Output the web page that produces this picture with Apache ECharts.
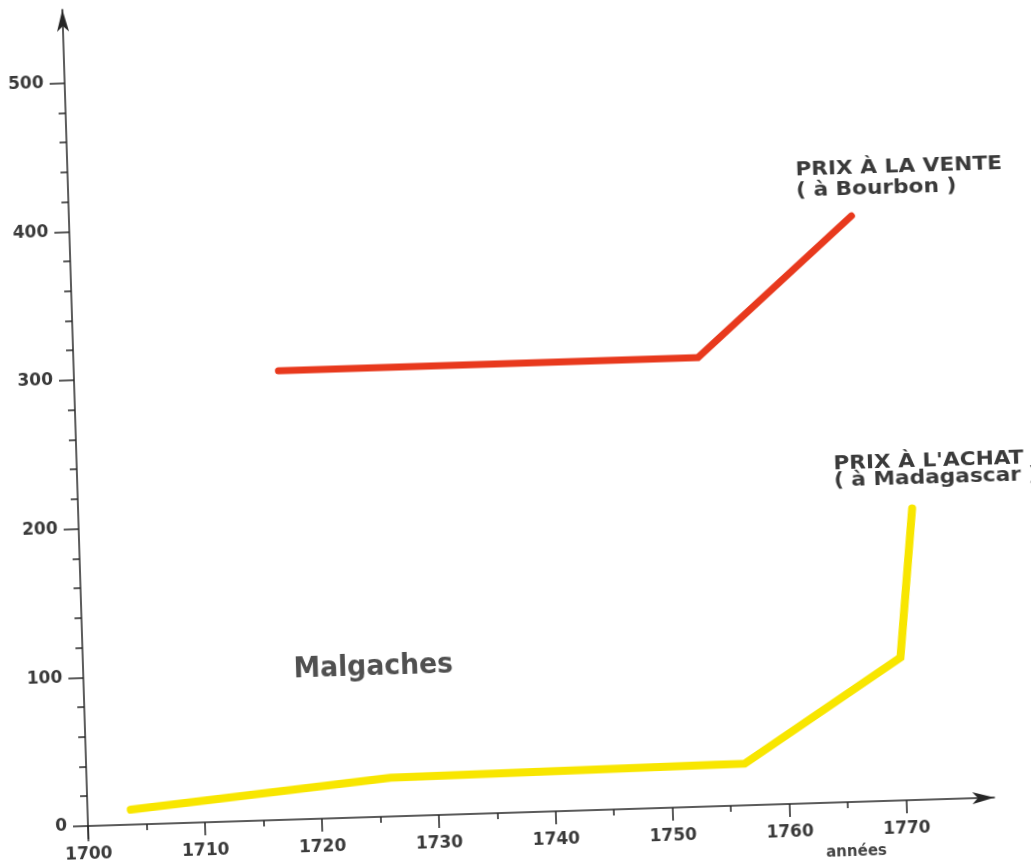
<!DOCTYPE html>
<html>
<head>
<meta charset="utf-8">
<script src="https://cdn.jsdelivr.net/npm/echarts@6/dist/echarts.min.js"></script>
<style>
html, body { margin: 0; padding: 0; background: #fff; overflow: hidden; width: 1031px; height: 861px; }
/* the scanned figure is slightly tilted, so the whole chart is turned a little */
#main { position: absolute; left: 0; top: -40px; width: 1080px; height: 941px;
        transform-origin: 88px 866px; transform: rotate(-1.8deg); }
</style>
</head>
<body>
<div id="main"></div>
<script>
"use strict";
// prix à la vente (à Bourbon)
var sellYears = [1717.5, 1753.4, 1766.9];
var sellPrices = [302, 302, 394];
// prix à l'achat (à Madagascar)
var buyYears = [1703.7, 1726, 1756.3, 1769.9, 1771.3];
var buyPrices = [10, 26, 28, 96, 196];

var yearLabels = [1700, 1710, 1720, 1730, 1740, 1750, 1760, 1770];
var yearMinorTicks = [1705, 1715, 1725, 1735, 1745, 1755, 1765];
var priceLabels = [0, 100, 200, 300, 400, 500];
var priceMinorTicks = [20, 40, 60, 80, 120, 140, 160, 180, 220, 240, 260, 280,
                       320, 340, 360, 380, 420, 440, 460, 480];

var font = '"DejaVu Sans", sans-serif';
var ink = '#262626';
var textInk = '#3a3a3a';

function pairs(xs, ys) {
    return xs.map(function (x, i) { return [x, ys[i]]; });
}
function plain(v) { return String(v); } // pas de séparateur de milliers

var chartDom = document.getElementById('main');
var myChart = echarts.init(chartDom, null, { renderer: 'canvas' });

var option = {
    animation: false,
    backgroundColor: '#fff',
    grid: { left: 88, right: 85.2, top: 49.3, bottom: 60.2, containLabel: false, outerBoundsMode: 'none' },
    xAxis: [{
        type: 'value', min: 1700, max: 1777.55,
        axisLine: { onZero: true, symbol: ['none', 'arrow'], symbolSize: [9, 22],
                    lineStyle: { color: ink, width: 1.5 } },
        axisTick: { customValues: yearLabels, length: 13, lineStyle: { color: ink, width: 1.5 } },
        axisLabel: { customValues: yearLabels, formatter: plain, margin: 5, fontSize: 17,
                     fontWeight: 'bold', fontFamily: font, color: textInk },
        splitLine: { show: false }
    }, {
        type: 'value', min: 1700, max: 1777.55, position: 'bottom',
        axisLine: { show: false, onZero: true, onZeroAxisIndex: 1 },
        axisTick: { customValues: yearMinorTicks, length: 6, lineStyle: { color: ink, width: 1.5 } },
        axisLabel: { show: false },
        splitLine: { show: false }
    }],
    yAxis: [{
        type: 'value', min: -10, max: 549.3,
        axisLine: { symbol: ['none', 'arrow'], symbolSize: [9, 22],
                    lineStyle: { color: ink, width: 1.5 } },
        axisTick: { customValues: priceLabels, length: 15, lineStyle: { color: ink, width: 1.5 } },
        axisLabel: { customValues: priceLabels, formatter: plain, margin: 21, fontSize: 17,
                     fontWeight: 'bold', fontFamily: font, color: textInk },
        splitLine: { show: false }
    }, {
        type: 'value', min: -10, max: 549.3, position: 'left',
        axisLine: { show: false },
        axisTick: { customValues: priceMinorTicks, length: 7, lineStyle: { color: ink, width: 1.5 } },
        axisLabel: { show: false },
        splitLine: { show: false }
    }],
    series: [{
        name: 'PRIX À LA VENTE', type: 'line', silent: true, symbol: 'none',
        data: pairs(sellYears, sellPrices),
        lineStyle: { color: '#e8391d', width: 7, cap: 'round', join: 'miter' }
    }, {
        name: "PRIX À L'ACHAT", type: 'line', silent: true, symbol: 'none',
        data: pairs(buyYears, buyPrices),
        lineStyle: { color: '#f8e600', width: 8, cap: 'round', join: 'miter' }
    }],
    graphic: [{
        type: 'text', x: 815.7, y: 222.5, scaleX: 1.14, silent: true,
        style: { text: 'PRIX À LA VENTE\n( à Bourbon )', fontSize: 19, fontWeight: 'bold',
                 fontFamily: font, fill: textInk, lineHeight: 21, align: 'left', verticalAlign: 'top' }
    }, {
        type: 'text', x: 844.4, y: 519.6, scaleX: 1.14, silent: true,
        style: { text: "PRIX À L'ACHAT\n( à Madagascar )", fontSize: 19, fontWeight: 'bold',
                 fontFamily: font, fill: textInk, lineHeight: 17, align: 'left', verticalAlign: 'top' }
    }, {
        type: 'text', x: 298.4, y: 701.5, scaleX: 0.92, silent: true,
        style: { text: 'Malgaches', fontSize: 29, fontWeight: 'bold',
                 fontFamily: font, fill: '#505050', align: 'left', verticalAlign: 'top' }
    }, {
        type: 'text', x: 825, y: 909, silent: true,
        style: { text: 'années', fontSize: 15, fontWeight: 'bold',
                 fontFamily: font, fill: '#444', align: 'left', verticalAlign: 'top' }
    }]
};
myChart.setOption(option);
</script>
</body>
</html>
